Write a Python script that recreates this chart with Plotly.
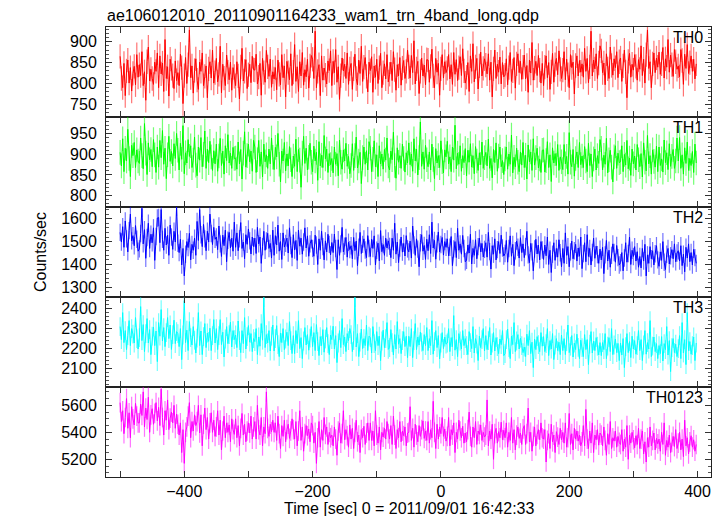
import numpy as np
import plotly.graph_objects as go
from plotly.subplots import make_subplots

# ---------------- data (2 s bins, read/estimated from the picture) ----------------
time_start = -500
time_step = 2

th0 = [
    865, 812, 790, 848, 771, 830, 856, 801, 838, 782, 824, 841, 797, 869, 815,
    845, 819, 876, 795, 828, 760, 852, 887, 806, 834, 812, 798, 851, 829, 873,
    790, 866, 823, 849, 781, 905, 812, 840, 770, 858, 836, 819, 788, 854, 807,
    826, 795, 870, 838, 752, 819, 862, 800, 845, 928, 814, 842, 777, 831, 859,
    808, 786, 851, 829, 873, 795, 817, 842, 766, 835, 852, 813, 880, 801, 826,
    860, 804, 822, 889, 778, 846, 813, 795, 868, 827, 809, 851, 784, 838, 817,
    795, 852, 818, 763, 840, 884, 806, 829, 857, 788, 821, 846, 802, 865, 833,
    832, 870, 799, 815, 848, 772, 860, 826, 803, 879, 840, 817, 858, 791, 828,
    811, 838, 785, 856, 822, 797, 869, 814, 842, 768, 853, 826, 809, 871, 795,
    827, 893, 805, 840, 781, 852, 818, 874, 796, 833, 816, 858, 789, 842, 867,
    858, 812, 925, 790, 829, 845, 771, 866, 808, 837, 820, 799, 854, 831, 878,
    795, 853, 826, 881, 803, 840, 762, 819, 861, 830, 846, 812, 873, 798, 835,
    848, 786, 835, 870, 812, 797, 856, 824, 889, 805, 839, 862, 817, 780, 851,
    831, 864, 779, 842, 815, 858, 800, 838, 872, 790, 826, 847, 811, 869, 804,
    822, 851, 807, 876, 833, 784, 845, 818, 862, 796, 837, 855, 812, 829, 880,
    840, 813, 867, 826, 902, 799, 835, 853, 776, 829, 861, 818, 844, 797, 857,
    856, 803, 841, 882, 818, 790, 860, 827, 848, 772, 835, 869, 813, 852, 826,
    836, 869, 811, 845, 798, 874, 822, 857, 807, 838, 864, 819, 883, 830, 801,
    815, 850, 781, 866, 829, 895, 804, 840, 860, 787, 842, 875, 818, 836, 859,
    844, 823, 871, 808, 851, 768, 835, 880, 812, 846, 827, 863, 799, 850, 816,
    820, 859, 797, 838, 874, 805, 830, 862, 789, 847, 871, 826, 853, 810, 839,
    868, 811, 843, 779, 856, 825, 898, 808, 837, 853, 819, 867, 832, 801, 848,
    795, 839, 866, 814, 850, 786, 828, 872, 803, 845, 860, 821, 878, 834, 812,
    832, 876, 809, 858, 821, 790, 869, 838, 851, 775, 843, 866, 818, 855, 827,
    847, 815, 884, 829, 860, 802, 840, 925, 818, 856, 835, 871, 812, 849, 890,
    878, 826, 849, 797, 871, 835, 812, 887, 843, 820, 859, 838, 876, 814, 852,
    861, 805, 842, 880, 828, 766, 853, 872, 815, 846, 832, 869, 841, 808, 857,
    834, 890, 819, 858, 801, 869, 928, 836, 852, 790, 847, 873, 826, 861, 839,
    875, 822, 847, 886, 813, 859, 839, 905, 827, 868, 845, 817, 881, 852, 834,
    842, 816, 881, 855, 798, 870, 836, 893, 824, 850, 866, 829, 858, 811, 847,
]

th1 = [
    905, 872, 938, 858, 915, 884, 961, 890, 846, 922, 897, 929, 868, 911, 884,
    878, 940, 897, 865, 975, 903, 851, 928, 887, 912, 870, 936, 899, 856, 918,
    869, 934, 892, 958, 876, 915, 841, 899, 944, 883, 907, 872, 926, 890, 951,
    910, 862, 927, 888, 970, 853, 904, 879, 936, 895, 921, 868, 886, 942, 874,
    848, 918, 886, 941, 870, 900, 957, 866, 913, 880, 932, 894, 861, 909, 877,
    925, 859, 896, 939, 873, 908, 852, 921, 885, 948, 879, 903, 866, 917, 890,
    891, 864, 930, 877, 912, 840, 903, 955, 869, 897, 925, 882, 908, 859, 934,
    918, 856, 887, 934, 871, 906, 845, 925, 882, 899, 866, 913, 877, 940, 893,
    863, 917, 894, 951, 876, 833, 908, 884, 929, 860, 901, 872, 919, 887, 846,
    896, 871, 937, 858, 912, 886, 820, 903, 944, 878, 915, 862, 893, 927, 881,
    858, 920, 884, 905, 837, 931, 872, 898, 868, 946, 889, 913, 856, 902, 875,
    890, 855, 918, 876, 902, 848, 935, 881, 864, 911, 884, 927, 871, 895, 853,
    873, 926, 861, 897, 942, 867, 884, 905, 829, 892, 918, 876, 909, 862, 931,
    915, 858, 888, 933, 870, 899, 846, 921, 877, 901, 864, 912, 886, 940, 872,
    862, 908, 887, 954, 873, 842, 916, 881, 897, 866, 925, 890, 857, 904, 879,
    928, 875, 901, 859, 938, 884, 913, 850, 892, 979, 871, 906, 864, 922, 887,
    870, 906, 862, 925, 888, 841, 914, 879, 897, 868, 933, 882, 855, 911, 894,
    932, 877, 894, 858, 918, 886, 971, 865, 903, 876, 921, 859, 897, 880, 914,
    848, 910, 881, 926, 869, 897, 853, 919, 884, 861, 904, 875, 930, 866, 892,
    905, 872, 937, 866, 890, 843, 912, 880, 928, 859, 896, 918, 870, 885, 851,
    889, 918, 864, 901, 876, 947, 855, 893, 870, 915, 881, 858, 906, 874, 929,
    868, 898, 840, 923, 882, 906, 861, 938, 874, 892, 915, 867, 889, 856, 910,
    911, 857, 885, 931, 868, 899, 834, 916, 879, 902, 873, 924, 861, 894, 882,
    863, 924, 877, 895, 852, 953, 881, 870, 912, 847, 890, 906, 868, 929, 875,
    896, 868, 919, 884, 858, 927, 873, 901, 846, 889, 913, 862, 897, 878, 936,
    915, 862, 898, 876, 939, 855, 887, 910, 869, 833, 894, 921, 866, 903, 880,
    882, 921, 858, 900, 874, 934, 865, 891, 849, 913, 877, 896, 862, 924, 887,
    870, 902, 845, 928, 881, 860, 946, 877, 897, 852, 911, 883, 869, 920, 858,
    918, 873, 889, 857, 935, 880, 904, 863, 926, 871, 895, 912, 866, 884, 940,
    884, 941, 866, 899, 852, 916, 878, 930, 861, 890, 873, 907, 856, 925, 879,
]

th2 = [
    1540, 1498, 1565, 1475, 1590, 1512, 1455, 1548, 1620, 1503, 1526, 1482, 1570, 1510, 1458,
    1468, 1535, 1645, 1490, 1552, 1427, 1518, 1580, 1470, 1532, 1495, 1560, 1418, 1522, 1603,
    1605, 1495, 1640, 1510, 1462, 1558, 1485, 1528, 1440, 1572, 1520, 1466, 1545, 1498, 1650,
    1493, 1452, 1510, 1398, 1470, 1350, 1445, 1500, 1474, 1536, 1420, 1488, 1462, 1515, 1440,
    1588, 1505, 1640, 1530, 1478, 1575, 1512, 1460, 1545, 1498, 1620, 1535, 1487, 1562, 1510,
    1520, 1465, 1568, 1490, 1435, 1528, 1482, 1550, 1412, 1506, 1540, 1472, 1515, 1458, 1585,
    1475, 1538, 1460, 1512, 1583, 1470, 1498, 1425, 1530, 1488, 1555, 1503, 1446, 1520, 1478,
    1515, 1448, 1562, 1490, 1520, 1405, 1478, 1545, 1462, 1503, 1536, 1470, 1492, 1428, 1550,
    1440, 1526, 1485, 1572, 1458, 1500, 1422, 1538, 1476, 1492, 1515, 1450, 1560, 1483, 1430,
    1530, 1463, 1505, 1418, 1550, 1480, 1515, 1445, 1498, 1560, 1472, 1525, 1436, 1490, 1508,
    1470, 1436, 1528, 1485, 1400, 1512, 1462, 1545, 1478, 1420, 1503, 1455, 1532, 1488, 1442,
    1496, 1452, 1533, 1470, 1378, 1508, 1440, 1490, 1562, 1455, 1480, 1518, 1432, 1497, 1465,
    1482, 1425, 1518, 1460, 1502, 1395, 1475, 1540, 1448, 1488, 1512, 1463, 1430, 1526, 1470,
    1435, 1510, 1470, 1525, 1398, 1462, 1493, 1416, 1548, 1456, 1487, 1440, 1515, 1472, 1503,
    1479, 1430, 1515, 1462, 1580, 1445, 1498, 1408, 1472, 1520, 1454, 1492, 1437, 1526, 1468,
    1455, 1502, 1428, 1568, 1485, 1440, 1512, 1467, 1390, 1495, 1530, 1458, 1483, 1422, 1510,
    1460, 1530, 1448, 1585, 1472, 1505, 1423, 1490, 1542, 1455, 1487, 1518, 1441, 1500, 1475,
    1512, 1438, 1475, 1522, 1395, 1468, 1500, 1430, 1558, 1462, 1490, 1445, 1527, 1470, 1412,
    1418, 1485, 1450, 1532, 1402, 1470, 1440, 1508, 1425, 1478, 1515, 1455, 1492, 1433, 1466,
    1495, 1432, 1540, 1456, 1380, 1482, 1445, 1512, 1420, 1465, 1500, 1448, 1528, 1472, 1437,
    1448, 1505, 1410, 1470, 1525, 1436, 1488, 1395, 1460, 1502, 1475, 1428, 1517, 1452, 1490,
    1430, 1478, 1545, 1442, 1408, 1492, 1455, 1372, 1468, 1510, 1446, 1485, 1420, 1500, 1463,
    1422, 1485, 1438, 1520, 1400, 1462, 1365, 1445, 1495, 1418, 1470, 1432, 1508, 1451, 1390,
    1470, 1405, 1538, 1440, 1478, 1390, 1455, 1502, 1425, 1460, 1488, 1415, 1472, 1436, 1520,
    1382, 1448, 1495, 1412, 1530, 1435, 1470, 1398, 1452, 1515, 1427, 1480, 1443, 1405, 1467,
    1420, 1475, 1360, 1442, 1505, 1415, 1462, 1388, 1440, 1490, 1452, 1410, 1483, 1430, 1398,
    1408, 1452, 1372, 1428, 1495, 1410, 1448, 1520, 1400, 1462, 1435, 1478, 1415, 1456, 1388,
    1435, 1385, 1470, 1415, 1488, 1350, 1442, 1405, 1478, 1425, 1460, 1398, 1447, 1482, 1420,
    1392, 1455, 1418, 1500, 1410, 1378, 1445, 1470, 1402, 1438, 1465, 1425, 1490, 1412, 1450,
    1460, 1415, 1482, 1395, 1445, 1368, 1475, 1428, 1490, 1412, 1452, 1398, 1466, 1430, 1405,
]

th3 = [
    2310, 2245, 2380, 2230, 2290, 2195, 2265, 2340, 2215, 2300, 2272, 2228, 2355, 2250, 2198,
    2255, 2410, 2240, 2320, 2185, 2275, 2350, 2228, 2295, 2170, 2262, 2308, 2215, 2288, 2135,
    2330, 2262, 2395, 2238, 2305, 2210, 2280, 2355, 2250, 2318, 2196, 2270, 2342, 2225, 2285,
    2275, 2210, 2300, 2145, 2268, 2440, 2230, 2292, 2190, 2335, 2255, 2218, 2310, 2242, 2178,
    2252, 2380, 2215, 2288, 2170, 2260, 2325, 2205, 2278, 2236, 2302, 2190, 2265, 2345, 2228,
    2300, 2195, 2265, 2345, 2220, 2282, 2158, 2248, 2310, 2225, 2270, 2332, 2208, 2290, 2245,
    2268, 2205, 2338, 2240, 2180, 2290, 2225, 2355, 2198, 2260, 2315, 2232, 2275, 2185, 2250,
    2235, 2300, 2170, 2258, 2212, 2325, 2242, 2455, 2205, 2270, 2228, 2290, 2188, 2262, 2318,
    2188, 2250, 2315, 2220, 2160, 2278, 2230, 2300, 2195, 2248, 2282, 2215, 2335, 2240, 2175,
    2265, 2175, 2290, 2225, 2340, 2200, 2255, 2150, 2238, 2305, 2218, 2270, 2192, 2252, 2310,
    2210, 2280, 2190, 2320, 2235, 2165, 2260, 2215, 2295, 2182, 2248, 2305, 2225, 2170, 2268,
    2245, 2312, 2198, 2265, 2130, 2228, 2290, 2205, 2350, 2220, 2258, 2185, 2275, 2240, 2300,
    2270, 2185, 2240, 2455, 2208, 2275, 2160, 2232, 2298, 2200, 2250, 2215, 2318, 2190, 2262,
    2255, 2178, 2310, 2225, 2190, 2285, 2215, 2262, 2140, 2238, 2292, 2205, 2250, 2330, 2196,
    2205, 2295, 2230, 2168, 2270, 2198, 2335, 2222, 2250, 2175, 2240, 2285, 2210, 2262, 2155,
    2262, 2210, 2300, 2155, 2240, 2325, 2195, 2258, 2218, 2282, 2232, 2190, 2270, 2215, 2305,
    2190, 2250, 2215, 2340, 2172, 2235, 2290, 2205, 2265, 2148, 2228, 2280, 2200, 2258, 2222,
    2228, 2300, 2185, 2255, 2210, 2365, 2192, 2245, 2160, 2275, 2238, 2198, 2290, 2215, 2250,
    2215, 2170, 2285, 2230, 2200, 2310, 2178, 2250, 2222, 2140, 2262, 2205, 2245, 2300, 2188,
    2265, 2195, 2240, 2305, 2168, 2228, 2280, 2188, 2255, 2210, 2175, 2248, 2220, 2290, 2165,
    2175, 2245, 2298, 2205, 2150, 2262, 2220, 2330, 2185, 2238, 2270, 2198, 2252, 2215, 2180,
    2208, 2160, 2272, 2215, 2290, 2175, 2232, 2105, 2248, 2195, 2260, 2220, 2185, 2280, 2212,
    2260, 2185, 2225, 2300, 2165, 2240, 2198, 2275, 2145, 2218, 2250, 2190, 2232, 2170, 2268,
    2190, 2250, 2170, 2235, 2318, 2180, 2212, 2265, 2158, 2228, 2195, 2272, 2206, 2150, 2242,
    2205, 2160, 2270, 2195, 2245, 2120, 2222, 2285, 2178, 2238, 2190, 2255, 2212, 2168, 2230,
    2165, 2230, 2195, 2275, 2150, 2212, 2255, 2185, 2300, 2170, 2218, 2248, 2180, 2226, 2140,
    2228, 2168, 2250, 2105, 2210, 2275, 2180, 2235, 2155, 2262, 2198, 2240, 2172, 2215, 2290,
    2190, 2245, 2140, 2218, 2290, 2172, 2230, 2198, 2340, 2160, 2212, 2258, 2185, 2225, 2150,
    2215, 2175, 2260, 2138, 2225, 2195, 2310, 2168, 2240, 2085, 2205, 2250, 2180, 2222, 2160,
    2200, 2265, 2150, 2330, 2178, 2245, 2120, 2380, 2190, 2235, 2172, 2215, 2258, 2140, 2228,
]

th0123 = [
    5620, 5480, 5560, 5390, 5510, 5650, 5430, 5545, 5360, 5590, 5500, 5455, 5615, 5520, 5470,
    5470, 5610, 5525, 5700, 5440, 5580, 5495, 5660, 5400, 5530, 5575, 5460, 5540, 5620, 5485,
    5585, 5450, 5720, 5510, 5380, 5560, 5490, 5640, 5420, 5505, 5550, 5470, 5600, 5430, 5535,
    5460, 5380, 5470, 5250, 5420, 5170, 5400, 5440, 5520, 5620, 5360, 5480, 5410, 5530, 5450,
    5480, 5600, 5395, 5530, 5300, 5460, 5580, 5420, 5510, 5350, 5470, 5545, 5400, 5490, 5370,
    5440, 5560, 5380, 5490, 5270, 5410, 5520, 5360, 5470, 5400, 5455, 5330, 5500, 5420, 5385,
    5500, 5360, 5450, 5300, 5430, 5540, 5380, 5460, 5330, 5410, 5470, 5395, 5520, 5350, 5440,
    5480, 5350, 5600, 5420, 5380, 5510, 5300, 5440, 5390, 5700, 5430, 5370, 5460, 5405, 5490,
    5400, 5470, 5340, 5520, 5390, 5280, 5450, 5370, 5490, 5330, 5420, 5460, 5355, 5410, 5500,
    5420, 5350, 5480, 5300, 5410, 5560, 5340, 5440, 5260, 5390, 5450, 5375, 5425, 5330, 5470,
    5450, 5320, 5400, 5170, 5360, 5480, 5290, 5420, 5340, 5510, 5385, 5440, 5310, 5400, 5360,
    5380, 5300, 5440, 5350, 5230, 5410, 5470, 5320, 5390, 5560, 5345, 5420, 5375, 5290, 5455,
    5350, 5430, 5280, 5400, 5490, 5330, 5380, 5250, 5420, 5360, 5445, 5310, 5395, 5470, 5340,
    5470, 5340, 5410, 5300, 5560, 5380, 5320, 5440, 5270, 5400, 5365, 5430, 5350, 5480, 5390,
    5350, 5450, 5310, 5520, 5380, 5280, 5420, 5360, 5480, 5330, 5410, 5375, 5440, 5300, 5395,
    5400, 5590, 5340, 5430, 5290, 5460, 5380, 5330, 5450, 5370, 5420, 5485, 5355, 5410, 5340,
    5480, 5320, 5420, 5360, 5630, 5400, 5280, 5460, 5350, 5440, 5390, 5510, 5370, 5425, 5335,
    5370, 5510, 5300, 5420, 5380, 5470, 5250, 5400, 5350, 5490, 5410, 5360, 5445, 5320, 5395,
    5330, 5420, 5550, 5370, 5290, 5440, 5360, 5480, 5310, 5410, 5385, 5455, 5340, 5400, 5365,
    5380, 5640, 5300, 5410, 5350, 5460, 5200, 5390, 5430, 5320, 5405, 5360, 5475, 5345, 5415,
    5360, 5470, 5290, 5400, 5340, 5510, 5320, 5420, 5270, 5380, 5440, 5355, 5395, 5310, 5425,
    5450, 5310, 5390, 5580, 5330, 5400, 5260, 5370, 5440, 5300, 5385, 5420, 5345, 5470, 5360,
    5350, 5420, 5180, 5340, 5390, 5280, 5460, 5330, 5380, 5250, 5405, 5365, 5310, 5430, 5345,
    5400, 5320, 5470, 5290, 5360, 5540, 5310, 5390, 5270, 5430, 5350, 5410, 5335, 5380, 5300,
    5330, 5450, 5300, 5570, 5350, 5280, 5410, 5320, 5470, 5250, 5380, 5345, 5420, 5305, 5395,
    5380, 5300, 5440, 5340, 5230, 5390, 5310, 5480, 5280, 5360, 5335, 5410, 5290, 5370, 5325,
    5310, 5420, 5260, 5350, 5290, 5450, 5200, 5380, 5320, 5400, 5345, 5285, 5375, 5310, 5430,
    5280, 5350, 5410, 5240, 5330, 5180, 5360, 5290, 5440, 5300, 5340, 5395, 5270, 5355, 5315,
    5350, 5260, 5400, 5310, 5470, 5230, 5340, 5290, 5380, 5250, 5325, 5370, 5295, 5420, 5280,
    5320, 5400, 5270, 5350, 5220, 5490, 5300, 5360, 5240, 5330, 5375, 5290, 5345, 5260, 5310,
]

band_names = ["TH0", "TH1", "TH2", "TH3", "TH0123"]
band_values = [th0, th1, th2, th3, th0123]
band_errors = [29, 30, 38, 47, 73]          # typical 1-sigma error per bin
band_colors = ["#ff0000", "#00ff00", "#0000ff", "#00ffff", "#ff00ff"]
band_err_colors = ["rgba(255,0,0,0.55)", "rgba(0,255,0,0.55)", "rgba(0,0,255,0.55)",
                   "rgba(0,255,255,0.55)", "rgba(255,0,255,0.55)"]
y_ranges = [[720, 935], [772, 991], [1258, 1651], [2008, 2458], [5069, 5736]]
y_major = [50, 50, 100, 100, 200]
y_minor = [10, 10, 20, 20, 50]
y_tick0 = [750, 800, 1300, 2100, 5200]

x_range = [-522, 421]
x_tickvals = [-500, -400, -300, -200, -100, 0, 100, 200, 300, 400]
x_ticktext = ["", "\u2212400", "", "\u2212200", "", "0", "", "200", "", "400"]

title_text = "ae106012010_20110901164233_wam1_trn_4band_long.qdp"
x_title = "Time [sec] 0 = 2011/09/01 16:42:33"
y_title = "Counts/sec"

FONT = "Liberation Sans, Arial, Helvetica, sans-serif"

time = time_start + time_step * np.arange(len(th0))

fig = make_subplots(rows=5, cols=1, shared_xaxes=True, vertical_spacing=0)

for i in range(5):
    r = i + 1
    fig.add_trace(go.Scatter(
        x=time, y=band_values[i], mode="lines",
        line=dict(color=band_colors[i], width=1),
        error_y=dict(type="constant", value=band_errors[i], color=band_err_colors[i],
                     thickness=1.2, width=0),
        showlegend=False, hoverinfo="skip"), row=r, col=1)
    fig.update_yaxes(
        range=y_ranges[i], tick0=y_tick0[i], dtick=y_major[i],
        ticks="inside", ticklen=6, tickwidth=1, tickcolor="#333",
        ticklabelstandoff=5,
        minor=dict(ticks="inside", ticklen=3, dtick=y_minor[i], tick0=y_tick0[i],
                   tickcolor="#555", showgrid=False),
        showline=True, linecolor="#222", linewidth=1, mirror="ticks",
        showgrid=False, zeroline=False,
        tickfont=dict(family=FONT, size=16, color="black"),
        row=r, col=1)
    fig.update_xaxes(
        range=x_range, tickmode="array", tickvals=x_tickvals, ticktext=x_ticktext,
        ticks="inside", ticklen=6, tickwidth=1, tickcolor="#333",
        showline=True, linecolor="#222", linewidth=1, mirror="ticks",
        showgrid=False, zeroline=False,
        tickfont=dict(family=FONT, size=16, color="black"),
        row=r, col=1)
    xref = "x domain" if r == 1 else f"x{r} domain"
    yref = "y domain" if r == 1 else f"y{r} domain"
    fig.add_annotation(text=band_names[i], xref=xref, yref=yref, x=0.99, y=1.0,
                       xanchor="right", yanchor="top", showarrow=False,
                       font=dict(family=FONT, size=16, color="black"))

fig.add_annotation(text=y_title, xref="paper", yref="paper", x=-0.109, y=0.5,
                   xanchor="center", yanchor="middle", textangle=-90, showarrow=False,
                   font=dict(family=FONT, size=16, color="black"))
fig.add_annotation(text=x_title, xref="paper", yref="paper", x=0.5, y=-0.069,
                   xanchor="center", yanchor="middle", showarrow=False,
                   font=dict(family=FONT, size=16, color="black"))

fig.update_layout(
    width=723, height=516,
    margin=dict(l=106, r=12, t=27, b=39),
    paper_bgcolor="white", plot_bgcolor="white",
    title=dict(text=title_text, x=107 / 723, xref="container", xanchor="left",
               y=1 - 15 / 516, yanchor="middle",
               font=dict(family=FONT, size=16, color="black")),
    showlegend=False,
)

fig.write_html("out.html",
               config={"displayModeBar": False},
               post_script="document.body.style.margin='0';document.body.style.overflow='hidden';")
